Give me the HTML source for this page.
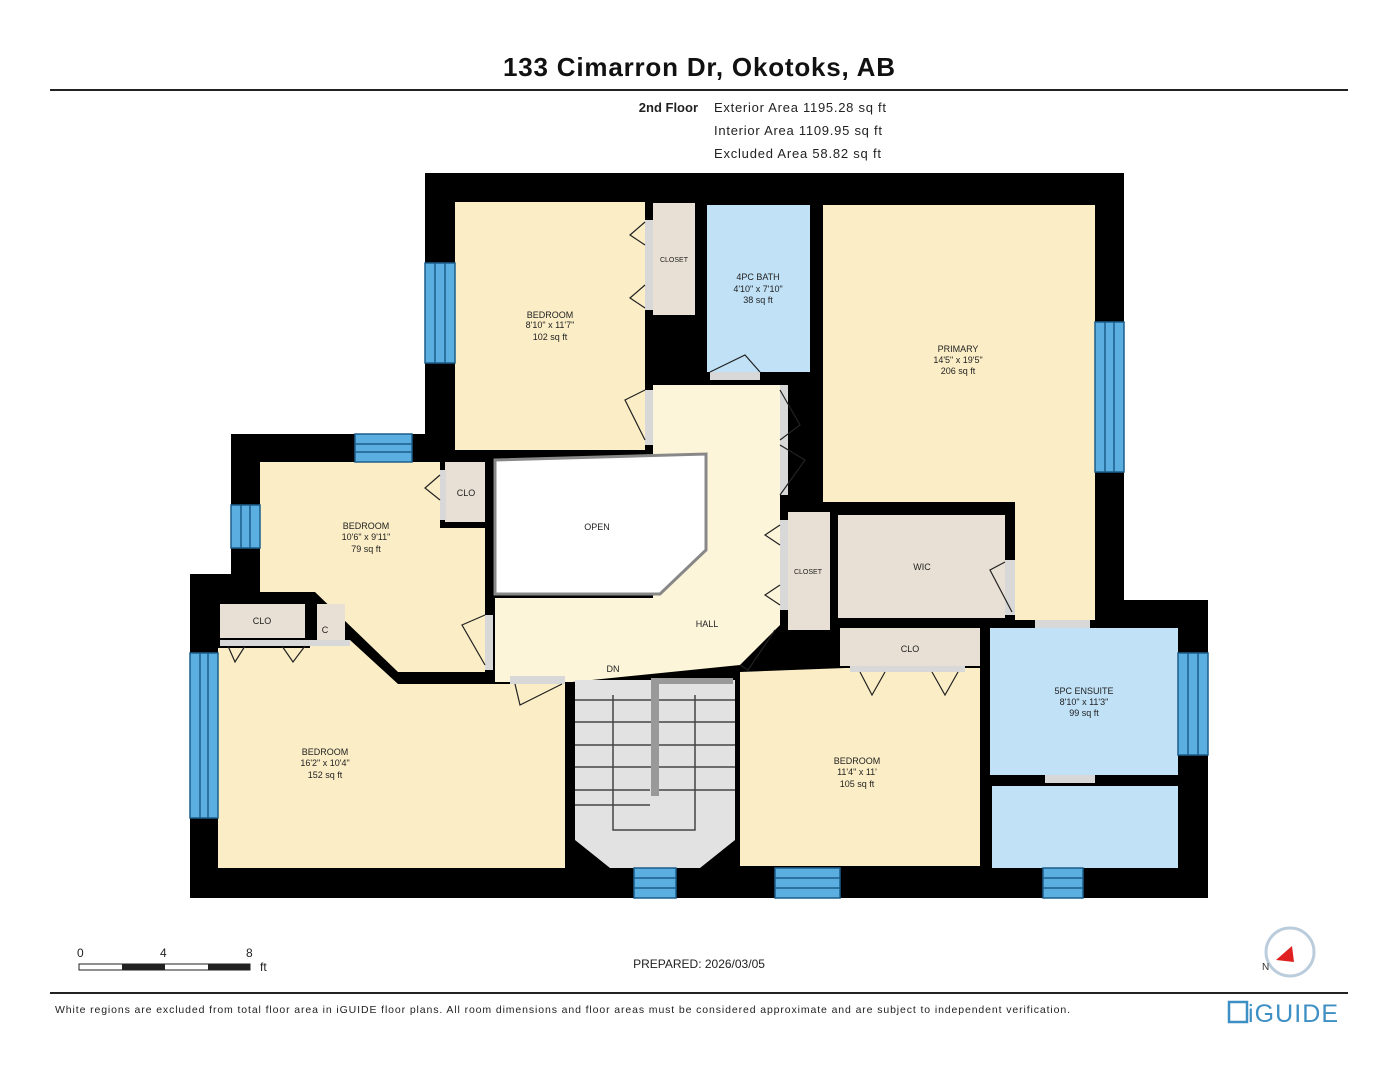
<!DOCTYPE html>
<html><head><meta charset="utf-8"><style>
body{margin:0;background:#fff;width:1398px;height:1080px;overflow:hidden;font-family:"Liberation Sans",Arial,sans-serif}
svg{position:absolute;left:0;top:0}
</style></head><body>
<svg width="1398" height="1080" viewBox="0 0 1398 1080" font-family="Liberation Sans, Arial, sans-serif">
<text x="699" y="76" text-anchor="middle" font-size="26" font-weight="bold" fill="#111" textLength="392">133 Cimarron Dr, Okotoks, AB</text>
<rect x="50" y="89" width="1298" height="2" fill="#222"/>
<text x="698" y="112" text-anchor="end" font-size="13" font-weight="bold" fill="#222">2nd Floor</text>
<text x="714" y="112" font-size="13" fill="#222" textLength="172">Exterior Area 1195.28 sq ft</text>
<text x="714" y="135" font-size="13" fill="#222" textLength="168">Interior Area 1109.95 sq ft</text>
<text x="714" y="158" font-size="13" fill="#222" textLength="167">Excluded Area 58.82 sq ft</text>

<polygon points="425,173 1124,173 1124,600 1208,600 1208,898 190,898 190,574 231,574 231,434 425,434" fill="#000"/>

<g fill="#fbeec6">
<rect x="455" y="202" width="190" height="248"/>
<polygon points="823,205 1095,205 1095,620 1015,620 1015,502 823,502"/>
<polygon points="260,462 440,462 440,528 485,528 485,672 398,672 315,592 260,592"/>
<polygon points="218,648 310,648 310,640 350,640 398,684 565,684 565,868 218,868"/>
<polygon points="740,672 845,668 980,668 980,866 740,866"/>
</g>
<polygon points="653,385 780,385 780,625 740,665 572,682 495,682 495,598 653,598" fill="#fdf5da"/>
<polygon points="495,460 706,454 706,550 660,594 495,594" fill="#fff" stroke="#888" stroke-width="3"/>
<g fill="#e8e0d4">
<rect x="653" y="203" width="42" height="112"/>
<rect x="445" y="462" width="40" height="60"/>
<rect x="220" y="604" width="85" height="34"/>
<rect x="317" y="604" width="28" height="40"/>
<rect x="788" y="512" width="42" height="118"/>
<rect x="838" y="515" width="167" height="103"/>
<rect x="840" y="628" width="140" height="38"/>
</g>
<g fill="#c0e1f6">
<rect x="707" y="205" width="103" height="167"/>
<rect x="990" y="628" width="188" height="147"/>
<rect x="992" y="786" width="186" height="82"/>
</g>
<polygon points="575,680 735,680 735,840 700,868 610,868 575,840" fill="#e2e2e2"/>
<g stroke="#444" stroke-width="1.5">
<line x1="575" y1="700" x2="735" y2="700"/><line x1="575" y1="722" x2="735" y2="722"/>
<line x1="575" y1="745" x2="735" y2="745"/><line x1="575" y1="767" x2="735" y2="767"/>
<line x1="575" y1="790" x2="650" y2="790"/><line x1="575" y1="805" x2="650" y2="805"/>
<line x1="655" y1="790" x2="735" y2="790"/>
<polyline points="613,695 613,830 695,830 695,695" fill="none"/>
</g>
<rect x="651" y="678" width="8" height="118" fill="#999"/>
<rect x="651" y="678" width="82" height="6" fill="#999"/>
<g fill="#d8d8d8">
<rect x="645" y="220" width="8" height="90"/>
<rect x="645" y="390" width="8" height="55"/>
<rect x="710" y="372" width="50" height="8"/>
<rect x="780" y="385" width="8" height="110"/>
<rect x="440" y="470" width="6" height="50"/>
<rect x="485" y="615" width="8" height="55"/>
<rect x="780" y="520" width="8" height="90"/>
<rect x="1005" y="560" width="10" height="55"/>
<rect x="1035" y="620" width="55" height="8"/>
<rect x="510" y="676" width="55" height="8"/>
<rect x="1045" y="775" width="50" height="8"/>
<rect x="220" y="640" width="130" height="6"/>
<rect x="850" y="666" width="115" height="6"/>
</g>
<g fill="none" stroke="#222" stroke-width="1.2">
<polyline points="645,222 630,235 645,245"/><polyline points="645,285 630,298 645,308"/>
<polyline points="645,440 625,400 645,390"/>
<polyline points="710,372 745,355 760,372"/>
<polyline points="780,390 800,425 780,440"/><polyline points="780,445 805,460 780,495"/>
<polyline points="440,475 425,488 440,500"/>
<polyline points="485,665 462,625 485,615"/>
<polyline points="228,646 235,662 245,646"/><polyline points="282,646 293,662 305,646"/>
<polyline points="780,525 765,535 780,545"/><polyline points="780,585 765,595 780,605"/>
<polyline points="1012,612 990,570 1005,562"/>
<polyline points="860,672 872,695 885,672"/><polyline points="932,672 945,695 958,672"/>
<polyline points="515,684 520,705 562,684"/>
<polyline points="775,630 748,670 740,665"/>
</g>
<g fill="#5aaee0" stroke="#1d5e8a" stroke-width="1.5">
<rect x="425" y="263" width="30" height="100"/>
<rect x="355" y="434" width="57" height="28"/>
<rect x="231" y="505" width="29" height="43"/>
<rect x="190" y="653" width="28" height="165"/>
<rect x="1095" y="322" width="29" height="150"/>
<rect x="1178" y="653" width="30" height="102"/>
<rect x="634" y="868" width="42" height="30"/>
<rect x="775" y="868" width="65" height="30"/>
<rect x="1043" y="868" width="40" height="30"/>
</g>
<g stroke="#1d5e8a" stroke-width="1.5">
<line x1="435" y1="263" x2="435" y2="363"/><line x1="445" y1="263" x2="445" y2="363"/>
<line x1="355" y1="444" x2="412" y2="444"/><line x1="355" y1="452" x2="412" y2="452"/>
<line x1="241" y1="505" x2="241" y2="548"/><line x1="250" y1="505" x2="250" y2="548"/>
<line x1="200" y1="653" x2="200" y2="818"/><line x1="208" y1="653" x2="208" y2="818"/>
<line x1="1105" y1="322" x2="1105" y2="472"/><line x1="1114" y1="322" x2="1114" y2="472"/>
<line x1="1188" y1="653" x2="1188" y2="755"/><line x1="1198" y1="653" x2="1198" y2="755"/>
<line x1="634" y1="878" x2="676" y2="878"/><line x1="634" y1="888" x2="676" y2="888"/>
<line x1="775" y1="878" x2="840" y2="878"/><line x1="775" y1="888" x2="840" y2="888"/>
<line x1="1043" y1="878" x2="1083" y2="878"/><line x1="1043" y1="888" x2="1083" y2="888"/>
</g>
<g font-size="9" fill="#222" text-anchor="middle">
<text x="550" y="318">BEDROOM</text><text x="550" y="328">8'10" x 11'7"</text><text x="550" y="340">102 sq ft</text>
<text x="674" y="262" font-size="7">CLOSET</text>
<text x="758" y="280">4PC BATH</text><text x="758" y="292">4'10" x 7'10"</text><text x="758" y="303">38 sq ft</text>
<text x="958" y="352">PRIMARY</text><text x="958" y="363">14'5" x 19'5"</text><text x="958" y="374">206 sq ft</text>
<text x="366" y="529">BEDROOM</text><text x="366" y="540">10'6" x 9'11"</text><text x="366" y="552">79 sq ft</text>
<text x="466" y="496">CLO</text>
<text x="597" y="530">OPEN</text>
<text x="262" y="624">CLO</text><text x="325" y="633">C</text>
<text x="707" y="627">HALL</text><text x="613" y="672">DN</text>
<text x="808" y="574" font-size="7">CLOSET</text>
<text x="922" y="570">WIC</text><text x="910" y="652">CLO</text>
<text x="1084" y="694">5PC ENSUITE</text><text x="1084" y="705">8'10" x 11'3"</text><text x="1084" y="716">99 sq ft</text>
<text x="325" y="755">BEDROOM</text><text x="325" y="766">16'2" x 10'4"</text><text x="325" y="778">152 sq ft</text>
<text x="857" y="764">BEDROOM</text><text x="857" y="775">11'4" x 11'</text><text x="857" y="787">105 sq ft</text>
</g>
<text x="77" y="957" font-size="12" fill="#222">0</text>
<text x="160" y="957" font-size="12" fill="#222">4</text>
<text x="246" y="957" font-size="12" fill="#222">8</text>
<text x="260" y="971" font-size="12" fill="#222">ft</text>
<rect x="79" y="964" width="171" height="6" fill="#fff" stroke="#222" stroke-width="1"/>
<rect x="122" y="964" width="43" height="6" fill="#222"/>
<rect x="208" y="964" width="42" height="6" fill="#222"/>
<text x="699" y="968" text-anchor="middle" font-size="12" fill="#222">PREPARED: 2026/03/05</text>
<circle cx="1290" cy="952" r="24" fill="#fff" stroke="#bcd" stroke-width="3"/>
<polygon points="1276,960 1292,946 1294,962" fill="#e02020"/>
<text x="1262" y="970" font-size="10" fill="#333">N</text>
<rect x="50" y="992" width="1298" height="2" fill="#222"/>
<text x="55" y="1013" font-size="10.5" fill="#222" textLength="1015">White regions are excluded from total floor area in iGUIDE floor plans. All room dimensions and floor areas must be considered approximate and are subject to independent verification.</text>
<rect x="1229" y="1002" width="18" height="20" fill="none" stroke="#3d8fc4" stroke-width="2.5"/>
<text x="1248" y="1022" font-size="25" fill="#3d8fc4" textLength="90">iGUIDE</text>
</svg>
</body></html>
